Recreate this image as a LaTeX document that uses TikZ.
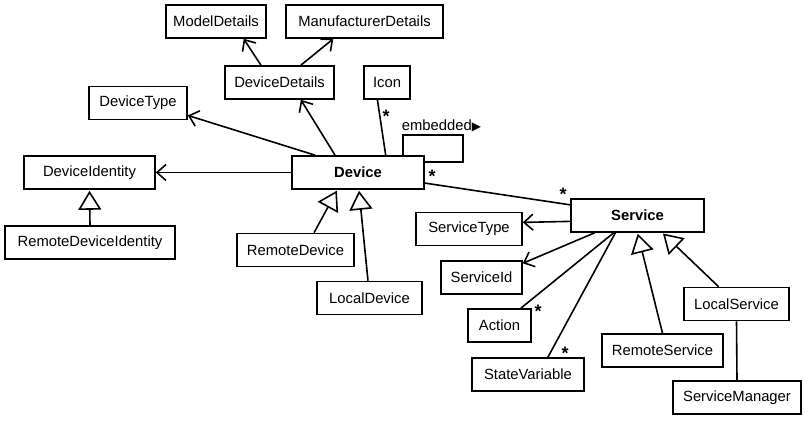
\documentclass[tikz,border=0pt]{standalone}
\usepackage{fontspec}
\setmainfont{Liberation Sans}
\newfontfamily\symfont{DejaVu Sans}
\usetikzlibrary{arrows.meta}

\begin{document}
\begin{tikzpicture}[x=1pt, y=1pt, line width=1.6pt,
    every node/.style={rectangle, draw=black, fill=white, line width=1.6pt, minimum height=33pt, inner sep=0pt, font=\fontsize{14.8}{17}\selectfont},
    lbl/.style={draw=none, fill=none, minimum height=0pt, inner sep=1pt},
    nav/.style={-{Straight Barb[length=9pt, width=16pt]}},
    gen/.style={-{Triangle[length=19pt, width=23pt, fill=white]}, shorten >=1pt}]

  % Detalles del dispositivo
  \node[minimum width=100pt] (modeld) at (216,-21.5) {ModelDetails};
  \node[minimum width=157pt] (manufd) at (364.5,-21.5) {ManufacturerDetails};
  \node[minimum width=109pt] (devdet) at (279.5,-82.5) {DeviceDetails};
  \node[minimum width=46pt] (icon) at (387,-82.5) {Icon};
  \node[minimum width=98pt] (devtype) at (138,-103) {DeviceType};

  % Identidad
  \node[minimum width=131pt] (devid) at (89.5,-172.5) {DeviceIdentity};
  \node[minimum width=170pt] (remdevid) at (90,-242.5) {RemoteDeviceIdentity};

  % Dispositivo
  \node[minimum width=132pt, font=\fontsize{14.8}{17}\selectfont\bfseries] (device) at (358,-172.5) {Device};
  \node[minimum width=117pt] (remdev) at (295.5,-250) {RemoteDevice};
  \node[minimum width=105pt] (locdev) at (369.5,-298) {LocalDevice};

  % Servicio
  \node[minimum width=133pt, font=\fontsize{14.8}{17}\selectfont\bfseries] (service) at (637.5,-215.5) {Service};
  \node[minimum width=106pt] (servtype) at (469,-229) {ServiceType};
  \node[minimum width=81pt] (servid) at (481.5,-277.5) {ServiceId};
  \node[minimum width=63pt] (action) at (499.5,-325.5) {Action};
  \node[minimum width=112pt] (statevar) at (528,-374.5) {StateVariable};
  \node[minimum width=121pt] (remserv) at (662.5,-350.5) {RemoteService};
  \node[minimum width=105pt] (locserv) at (736.5,-304) {LocalService};
  \node[minimum width=128pt] (servmgr) at (737,-397.5) {ServiceManager};

  % Aristas
  \draw[nav] (devdet.137) -- (modeld.-32);
  \draw[nav] (devdet.39) -- (manufd.-151);
  \draw[nav] (device.143) -- (devdet.-39);
  \draw (device.32) -- (icon.-119);
  \draw[nav] (device.158) -- (devtype.-14);
  \draw[nav] (device.west) -- (devid.east);
  \draw[gen] (remdevid.north) -- (devid.south);
  \draw[gen] (remdev.43) -- (device.-140);
  \draw[gen] (locdev.95) -- (device.-87);
  \draw (device.-9.5) -- (service.171.4);

  % Lazo embedded
  \coordinate (loopc) at (463,-135);
  \draw (device.21.7) |- (loopc) |- (device.9.9);
  \node[lbl, anchor=west] (embedlbl) at (400,-126) {embedded{\symfont\fontsize{12}{12}\selectfont ▶}};

  \draw[nav] (service.185.6) -- (servtype.7.5);
  \draw[nav] (service.-158.5) -- (servid.19.3);
  \draw (service.-144.5) -- (action.39);
  \draw (service.-142) -- (statevar.41);
  \draw[gen] (remserv.north) -- (service.-90);
  \draw[gen] (locserv.136) -- (service.-35.5);
  \draw (locserv.south) -- (servmgr.north);

  % Multiplicidades
  \node[lbl, font=\fontsize{18}{18}\selectfont\bfseries] (mulicon) at (386,-116) {*};
  \node[lbl, font=\fontsize{18}{18}\selectfont\bfseries] (mulloop) at (432,-176) {*};
  \node[lbl, font=\fontsize{18}{18}\selectfont\bfseries] (mulserv) at (563,-194) {*};
  \node[lbl, font=\fontsize{18}{18}\selectfont\bfseries] (mulact) at (538,-311) {*};
  \node[lbl, font=\fontsize{18}{18}\selectfont\bfseries] (mulvar) at (565,-353) {*};

  \useasboundingbox (0,0) rectangle (805,-420);
\end{tikzpicture}
\end{document}
